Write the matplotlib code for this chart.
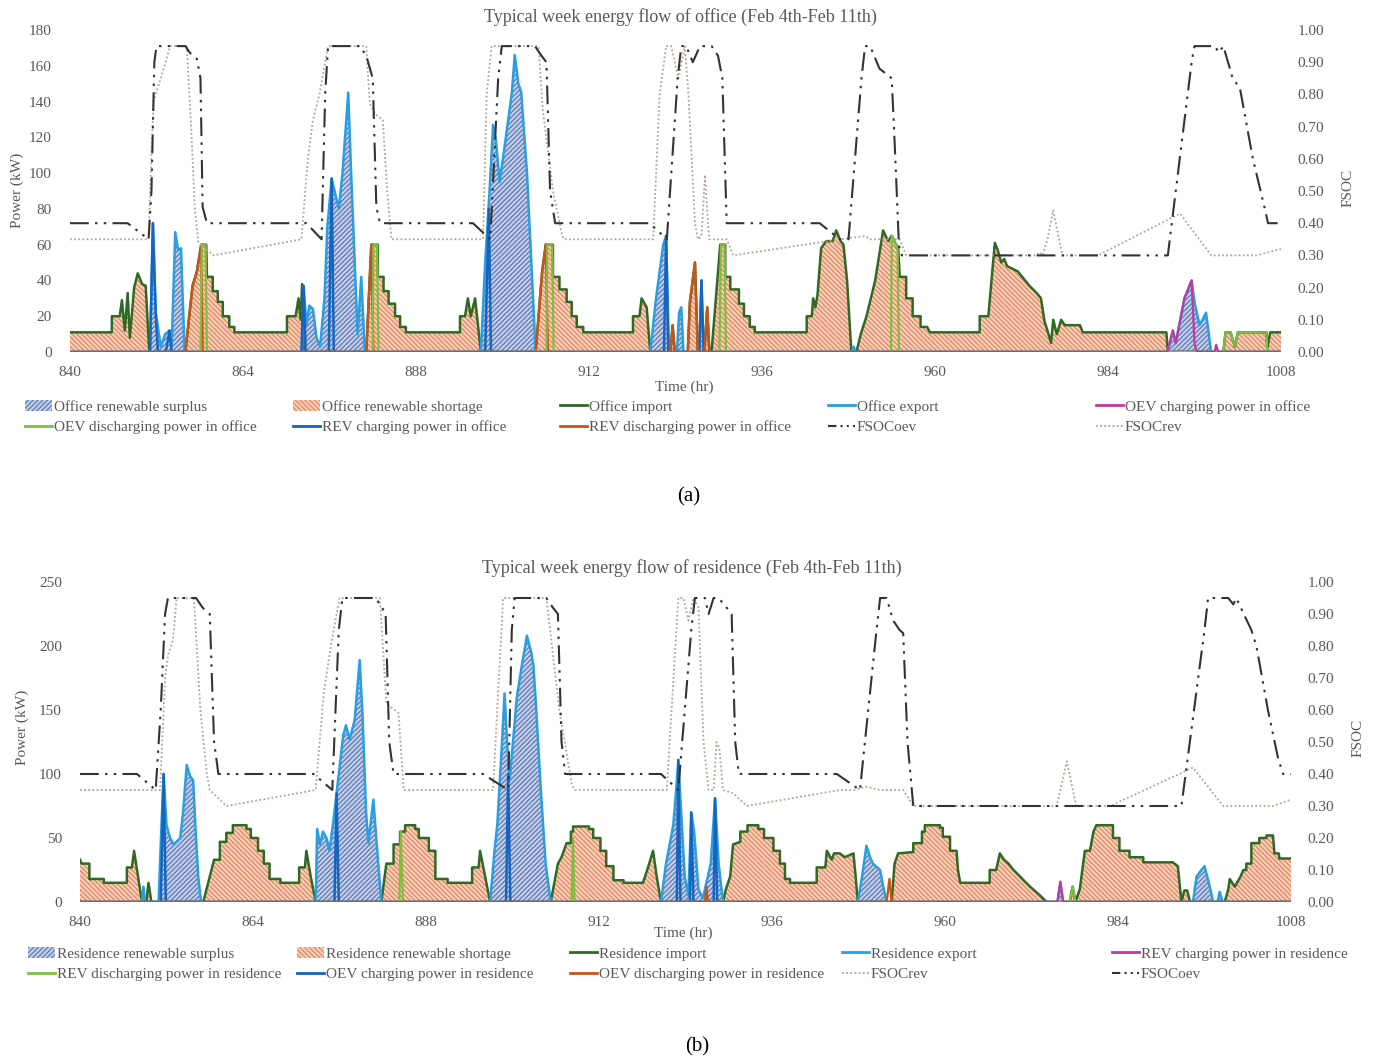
import matplotlib
matplotlib.use("Agg")
import matplotlib.pyplot as plt
from matplotlib.patches import Patch
from matplotlib.lines import Line2D

plt.rcParams["font.family"] = ["Liberation Serif", "DejaVu Serif"]
plt.rcParams["hatch.linewidth"] = 0.8

GREY = "#595959"

# ---------------- office (hour, kW) ----------------
off_short = [
    (840, 11), (845.8, 11), (845.8, 20), (846.9, 20), (847.2, 29), (847.6, 12), (848.0, 33), (848.3, 8),
    (848.9, 36), (849.4, 44), (850.0, 38), (850.5, 37), (851.0, 0),
    (856.0, 0), (857.0, 37), (857.6, 45), (858.2, 60), (858.9, 60), (859.0, 42), (859.8, 42), (859.8, 34),
    (860.5, 34), (860.5, 28), (861.2, 28), (861.2, 20), (862.1, 20), (862.1, 14), (862.8, 14), (862.8, 11),
    (870.1, 11), (870.1, 20), (871.3, 20), (871.7, 30), (872.0, 18), (872.2, 38), (872.5, 0),
    (881.1, 0), (881.8, 60), (882.7, 60), (882.7, 42), (883.5, 42), (883.5, 34), (884.2, 34), (884.2, 27),
    (885.1, 27), (885.1, 20), (885.8, 20), (885.8, 14), (886.6, 14), (886.6, 11),
    (894.1, 11), (894.1, 20), (894.8, 20), (895.2, 30), (895.6, 20), (896.2, 30), (897.0, 0),
    (904.6, 0), (905.5, 45), (906.0, 60), (907.0, 60), (907.0, 42), (907.9, 42), (907.9, 35), (908.9, 35),
    (908.9, 28), (909.6, 28), (909.6, 20), (910.3, 20), (910.3, 14), (911.2, 14), (911.2, 11),
    (918.1, 11), (918.1, 20), (919.0, 20), (919.3, 30), (920.0, 25), (920.5, 0),
    (923.3, 0), (923.6, 15), (923.9, 0), (925.7, 0), (926.0, 28), (926.7, 50), (927.1, 0), (928.0, 0),
    (928.4, 25), (928.7, 0), (929.0, 0), (929.8, 40), (930.2, 60), (930.9, 60), (930.9, 42), (931.6, 42),
    (931.6, 35), (932.8, 35), (932.8, 27), (933.5, 27), (933.5, 20), (934.3, 20), (934.3, 14), (935.0, 14),
    (935.0, 11),
    (942.2, 11), (942.2, 20), (942.9, 20), (943.1, 30), (943.4, 25), (943.7, 32), (944.2, 58), (944.9, 62),
    (945.8, 62), (946.3, 68), (946.9, 62), (947.3, 60), (947.8, 40), (948.4, 0),
    (949.1, 0), (949.7, 10), (950.5, 20), (951.7, 40), (952.8, 68), (953.5, 62), (954.0, 65), (954.6, 60),
    (954.9, 58), (955.1, 42), (956.0, 42), (956.0, 30), (956.9, 30), (956.9, 20), (958.0, 20), (958.0, 14),
    (958.9, 14), (959.3, 11),
    (966.2, 11), (966.2, 20), (967.4, 20), (968.3, 61), (968.7, 57), (969.2, 50), (969.6, 52), (970.0, 48),
    (971.5, 45), (972.5, 40), (973.1, 37), (973.6, 35), (974.1, 33), (974.7, 30), (975.2, 17), (975.6, 12),
    (976.1, 5), (976.4, 18), (976.9, 10), (977.5, 18), (978.0, 15), (980.1, 15), (980.5, 11),
    (992.1, 11), (992.3, 0), (1000.0, 0), (1000.3, 11), (1001.0, 11), (1001.6, 3), (1002.0, 11),
    (1006.0, 11), (1006.1, 2), (1006.5, 11), (1008, 11),
]
off_surp = [
    (840, 0), (851.1, 0), (851.5, 72), (851.9, 22), (852.6, 3), (853.2, 10), (853.8, 12), (854.1, 2),
    (854.6, 67), (855.0, 57), (855.4, 58), (855.9, 0),
    (872.2, 0), (872.4, 37), (872.8, 15), (873.2, 26), (873.7, 24), (874.2, 8), (874.7, 3), (875.3, 30),
    (875.7, 70), (876.3, 97), (876.7, 90), (877.3, 80), (877.8, 100), (878.6, 145), (879.0, 100),
    (879.6, 40), (879.9, 10), (880.4, 42), (880.9, 0),
    (897.0, 0), (897.6, 50), (898.2, 90), (898.7, 127), (899.1, 118), (899.6, 95), (900.3, 115),
    (901.3, 145), (901.7, 166), (902.2, 150), (902.6, 145), (903.4, 100), (904.0, 50), (904.6, 0),
    (920.5, 0), (921.3, 30), (921.8, 45), (922.3, 60), (922.7, 65), (923.1, 0), (924.2, 0), (924.5, 22),
    (924.8, 25), (925.1, 0), (927.3, 0), (927.6, 40), (927.9, 0),
    (948.4, 0), (948.7, 3), (949.0, 0),
    (992.3, 0), (993.0, 12), (993.4, 5), (994.6, 30), (995.1, 35), (995.6, 40), (996.0, 28), (996.7, 15),
    (997.6, 22), (998.3, 0), (1008, 0),
]
off_rev_ch = [
    (840, 0), (851.1, 0), (851.5, 72), (851.9, 20), (852.2, 0), (853.3, 0), (853.8, 12), (854.1, 0),
    (872.1, 0), (872.4, 37), (872.7, 0), (875.9, 0), (876.3, 97), (876.6, 0), (897.6, 0), (898.1, 80),
    (898.4, 0), (922.4, 0), (922.7, 65), (923.0, 0), (927.3, 0), (927.6, 40), (927.9, 0), (1008, 0),
]
off_rev_dis = [
    (840, 0), (856.0, 0), (857.0, 37), (857.6, 45), (858.2, 60), (858.4, 0), (881.1, 0), (881.8, 60),
    (882.1, 0), (904.6, 0), (905.5, 45), (906.0, 60), (906.3, 0), (923.3, 0), (923.6, 15), (923.9, 0),
    (925.7, 0), (926.0, 28), (926.7, 50), (927.1, 0), (928.0, 0), (928.4, 25), (928.7, 0), (1008, 0),
]
off_oev_ch = [
    (840, 0), (992.2, 0), (993.0, 12), (993.4, 5), (994.6, 30), (995.1, 35), (995.6, 40), (996.0, 5),
    (996.3, 0), (998.8, 0), (999.0, 4), (999.3, 0), (1008, 0),
]
off_oev_dis = [
    (840, 0), (858.1, 0), (858.3, 60), (858.8, 60), (859.0, 0), (882.0, 0), (882.1, 60), (882.6, 60),
    (882.8, 0), (906.1, 0), (906.2, 60), (906.9, 60), (907.1, 0), (930.1, 0), (930.3, 60), (930.8, 60),
    (931.0, 0), (953.9, 0), (954.0, 65), (954.8, 58), (955.0, 0), (1000.0, 0), (1000.3, 11), (1001.0, 11),
    (1001.6, 3), (1002.0, 11), (1006.0, 11), (1006.1, 0), (1008, 0),
]
off_fsoc_oev = [
    (840, 0.40), (848.0, 0.40), (850.9, 0.35), (851.3, 0.50), (851.7, 0.90), (852.0, 0.95), (856.0, 0.95),
    (856.6, 0.93), (857.6, 0.91), (858.1, 0.85), (858.4, 0.45), (859.0, 0.40),
    (872.8, 0.40), (874.9, 0.35), (875.4, 0.80), (875.8, 0.95), (880.2, 0.95), (881.1, 0.92), (882.0, 0.85),
    (882.5, 0.45), (883.0, 0.40),
    (895.9, 0.40), (898.3, 0.35), (899.4, 0.85), (899.9, 0.95), (904.5, 0.95), (905.4, 0.92), (906.1, 0.90),
    (906.6, 0.50), (907.3, 0.40),
    (920.4, 0.40), (922.8, 0.35), (924.3, 0.85), (924.8, 0.95), (925.5, 0.95), (926.4, 0.90), (927.4, 0.95),
    (929.0, 0.95), (929.9, 0.92), (930.5, 0.85), (931.1, 0.40),
    (944.0, 0.40), (946.8, 0.35), (948.0, 0.35), (949.8, 0.85), (950.3, 0.95), (951.0, 0.95), (952.3, 0.88),
    (954.0, 0.85), (954.5, 0.60), (955.0, 0.33), (955.4, 0.30),
    (992.3, 0.30), (995.6, 0.90), (996.0, 0.95), (998.8, 0.95), (999.4, 0.93), (1000.0, 0.95), (1001.3, 0.85),
    (1002.3, 0.82), (1004.1, 0.60), (1005.7, 0.45), (1006.2, 0.40), (1007.6, 0.40),
]
off_fsoc_rev = [
    (840, 0.35), (850.9, 0.35), (851.3, 0.62), (851.6, 0.78), (852.6, 0.85), (853.9, 0.95), (856.2, 0.95),
    (856.8, 0.70), (857.3, 0.45), (857.8, 0.34), (859.4, 0.31), (859.9, 0.30),
    (872.1, 0.35), (873.0, 0.60), (873.7, 0.72), (874.6, 0.80), (875.8, 0.95), (881.1, 0.95), (881.6, 0.77),
    (882.3, 0.74), (883.4, 0.72), (884.0, 0.50), (884.6, 0.35),
    (897.3, 0.35), (897.8, 0.80), (898.5, 0.95), (905.0, 0.95), (905.6, 0.75), (907.0, 0.50), (908.2, 0.37),
    (908.5, 0.35),
    (920.9, 0.35), (921.8, 0.80), (922.7, 0.95), (923.4, 0.95), (924.4, 0.85), (925.3, 0.95), (925.8, 0.80),
    (926.7, 0.40), (927.1, 0.35), (927.6, 0.36), (928.1, 0.55), (928.5, 0.40), (928.7, 0.35), (931.1, 0.35),
    (932.0, 0.30), (946.8, 0.35), (950.3, 0.36), (951.0, 0.35), (955.1, 0.35), (956.0, 0.30),
    (974.1, 0.30), (974.5, 0.31), (974.9, 0.30), (975.6, 0.35), (976.4, 0.44), (977.2, 0.35), (977.7, 0.30),
    (982.6, 0.30), (994.0, 0.43), (998.3, 0.30), (1004.6, 0.30), (1008, 0.32),
]

# ---------------- residence (hour, kW) ----------------
res_short = [
    (840, 33), (840.2, 30), (841.3, 30), (841.3, 18), (843.3, 18), (843.3, 15), (846.5, 15), (846.5, 27),
    (847.2, 27), (847.5, 40), (848.0, 22), (848.6, 0), (849.2, 0), (849.5, 15), (849.9, 0),
    (857.1, 0), (858.0, 20), (858.6, 33), (859.4, 33), (859.4, 47), (860.3, 47), (860.3, 54), (861.2, 54),
    (861.2, 60), (863.1, 60), (863.1, 57), (863.7, 57), (863.7, 50), (864.7, 50), (864.7, 40), (865.5, 40),
    (865.5, 30), (866.3, 30), (866.3, 18), (867.8, 18), (867.8, 15), (870.4, 15), (870.4, 27), (871.2, 27),
    (871.4, 40), (872.0, 20), (872.7, 0),
    (881.8, 0), (882.5, 30), (883.5, 30), (883.5, 45), (884.4, 45), (884.4, 55), (885.1, 55), (885.1, 60),
    (886.5, 60), (886.5, 57), (887.0, 57), (887.0, 50), (888.4, 50), (888.4, 40), (889.3, 40), (889.3, 18),
    (891.0, 18), (891.0, 15), (894.4, 15), (894.4, 27), (895.3, 27), (895.5, 40), (896.2, 20), (896.9, 0),
    (905.3, 0), (905.8, 15), (906.3, 30), (906.8, 35), (907.5, 46), (908.1, 46), (908.1, 55), (908.4, 55),
    (908.4, 59), (910.6, 59), (910.6, 57), (911.2, 57), (911.2, 50), (912.2, 50), (912.2, 40), (913.0, 40),
    (913.0, 28), (914.0, 28), (914.0, 17), (915.4, 17), (915.4, 15), (918.1, 15), (918.8, 27), (919.5, 40),
    (920.0, 20), (920.6, 0),
    (929.2, 0), (929.6, 10), (930.2, 20), (930.6, 45), (931.6, 47), (931.6, 55), (932.6, 55), (932.6, 60),
    (934.1, 60), (934.1, 57), (934.9, 57), (934.9, 50), (936.2, 50), (936.2, 40), (937.1, 40), (937.1, 30),
    (937.8, 30), (937.8, 18), (938.5, 18), (938.5, 15), (942.2, 15), (942.2, 27), (943.4, 27), (943.6, 40),
    (944.3, 33), (944.6, 38), (945.4, 38), (946.1, 35), (947.3, 38), (947.6, 20), (947.9, 0),
    (952.6, 0), (953.0, 30), (953.5, 38), (955.6, 39), (955.6, 46), (956.8, 46), (956.8, 55), (957.2, 55),
    (957.2, 60), (959.3, 60), (959.3, 58), (959.7, 58), (959.7, 51), (960.7, 51), (960.7, 40), (961.6, 40),
    (961.8, 25), (962.1, 15), (966.2, 15), (966.2, 25), (967.1, 25), (967.6, 38), (968.2, 33), (968.8, 30),
    (969.5, 25), (970.4, 20), (970.9, 17), (971.8, 12), (973.2, 5), (974.1, 0),
    (977.3, 0), (977.7, 12), (978.1, 0), (978.7, 10), (979.4, 40), (980.1, 40), (980.6, 55), (981.0, 60),
    (983.3, 60), (983.3, 50), (984.2, 50), (984.2, 40), (985.6, 40), (985.6, 35), (987.5, 35), (987.5, 31),
    (991.6, 31), (992.3, 28), (992.8, 0), (993.2, 9), (993.6, 9), (994.0, 0),
    (998.8, 0), (999.3, 10), (999.5, 18), (1000.2, 12), (1001.0, 20), (1001.4, 25), (1001.8, 25),
    (1001.8, 30), (1002.5, 30), (1002.5, 46), (1003.6, 46), (1003.6, 50), (1004.6, 50), (1004.6, 52),
    (1005.5, 52), (1005.7, 38), (1006.3, 38), (1006.4, 34), (1008, 34),
]
res_surp = [
    (840, 0), (848.6, 0), (848.8, 12), (849.0, 0), (850.9, 0), (851.3, 60), (851.6, 100), (852.0, 60),
    (852.5, 50), (853.0, 45), (853.9, 50), (854.3, 70), (854.8, 107), (855.3, 98), (855.7, 95), (856.0, 60),
    (856.4, 20), (856.8, 0),
    (872.7, 0), (872.9, 57), (873.3, 45), (873.7, 55), (874.2, 50), (874.6, 40), (875.1, 61), (875.6, 85),
    (876.1, 110), (876.5, 130), (876.9, 138), (877.4, 127), (878.1, 142), (878.8, 189), (879.2, 145),
    (879.7, 69), (880.0, 46), (880.7, 80), (881.1, 50), (881.8, 0),
    (896.9, 0), (897.5, 40), (897.9, 61), (898.5, 120), (898.9, 163), (899.2, 130), (899.6, 95), (900.3, 140),
    (900.6, 160), (901.3, 185), (902.0, 208), (902.6, 195), (902.9, 185), (903.3, 150), (903.9, 90),
    (904.6, 30), (905.3, 0),
    (920.6, 0), (921.3, 30), (921.8, 45), (922.3, 60), (922.7, 87), (923.0, 111), (923.3, 80), (923.7, 40),
    (923.9, 20), (924.4, 5), (924.8, 70), (925.2, 55), (925.8, 10), (926.4, 3), (926.9, 15), (927.5, 30),
    (928.1, 81), (928.6, 30), (929.2, 0),
    (947.9, 0), (948.5, 20), (949.1, 44), (949.6, 35), (950.0, 30), (951.0, 25), (951.5, 10), (951.9, 0),
    (975.6, 0), (976.0, 15), (976.4, 0),
    (994.4, 0), (994.9, 20), (996.0, 28), (996.6, 15), (997.2, 0), (997.8, 0), (998.1, 8), (998.5, 0),
    (1008, 0),
]
res_oev_ch = [
    (840, 0), (851.2, 0), (851.6, 100), (851.9, 0), (875.3, 0), (875.6, 85), (875.9, 0), (899.1, 0),
    (899.4, 100), (899.7, 0), (922.8, 0), (923.0, 111), (923.3, 0), (924.6, 0), (924.8, 70), (925.1, 0),
    (927.9, 0), (928.1, 81), (928.4, 0), (1008, 0),
]
res_oev_dis = [
    (840, 0), (926.7, 0), (926.9, 12), (927.1, 0), (951.9, 0), (952.3, 18), (952.6, 0), (1008, 0),
]
res_rev_ch = [(840, 0), (975.6, 0), (976.0, 16), (976.4, 0), (1008, 0)]
res_rev_dis = [
    (840, 0), (884.3, 0), (884.5, 55), (884.8, 0), (908.2, 0), (908.4, 50), (908.6, 0), (977.3, 0),
    (977.7, 12), (978.1, 0), (1008, 0),
]
res_fsoc_oev = [
    (840, 0.40), (847.9, 0.40), (850.5, 0.35), (851.2, 0.60), (851.8, 0.90), (852.2, 0.95), (856.1, 0.95),
    (857.0, 0.92), (858.0, 0.90), (858.6, 0.50), (859.2, 0.40),
    (872.4, 0.40), (875.0, 0.35), (875.9, 0.85), (876.4, 0.95), (881.0, 0.95), (881.9, 0.92), (882.4, 0.90),
    (882.9, 0.50), (883.5, 0.40),
    (895.9, 0.40), (899.4, 0.35), (899.9, 0.85), (900.3, 0.95), (904.7, 0.95), (905.6, 0.92), (906.3, 0.90),
    (906.8, 0.50), (907.3, 0.40),
    (920.6, 0.40), (923.0, 0.35), (924.8, 0.85), (925.3, 0.95), (926.7, 0.95), (927.2, 0.90), (927.9, 0.95),
    (928.6, 0.95), (929.7, 0.92), (930.4, 0.90), (930.9, 0.50), (931.4, 0.40),
    (945.0, 0.40), (948.2, 0.35), (950.5, 0.85), (951.0, 0.95), (951.9, 0.95), (952.8, 0.88), (953.7, 0.85),
    (954.2, 0.84), (954.8, 0.50), (955.6, 0.30),
    (992.8, 0.30), (996.0, 0.85), (996.5, 0.95), (999.3, 0.95), (1000.0, 0.93), (1000.4, 0.95),
    (1002.5, 0.85), (1003.2, 0.80), (1004.8, 0.60), (1006.2, 0.45), (1006.9, 0.40), (1008, 0.40),
]
res_fsoc_rev = [
    (840, 0.35), (851.1, 0.35), (851.8, 0.70), (852.2, 0.77), (852.9, 0.82), (853.4, 0.95), (855.8, 0.95),
    (856.7, 0.60), (857.6, 0.40), (858.0, 0.35), (860.3, 0.30),
    (872.7, 0.35), (873.8, 0.65), (874.8, 0.80), (876.0, 0.95), (881.6, 0.95), (882.5, 0.62), (884.2, 0.59),
    (884.9, 0.35),
    (897.3, 0.35), (898.7, 0.95), (904.7, 0.95), (906.5, 0.60), (908.2, 0.37), (908.6, 0.35),
    (921.4, 0.35), (923.0, 0.95), (923.7, 0.95), (924.4, 0.88), (925.1, 0.95), (925.8, 0.92), (926.5, 0.50),
    (927.2, 0.35), (927.9, 0.35), (928.3, 0.50), (928.7, 0.48), (929.2, 0.35), (930.6, 0.34), (932.5, 0.30),
    (945.4, 0.35), (947.3, 0.35), (949.1, 0.36), (951.0, 0.35), (954.2, 0.35), (955.6, 0.30),
    (975.5, 0.30), (976.9, 0.44), (978.2, 0.30), (982.9, 0.30), (994.4, 0.42), (998.6, 0.30), (1005.5, 0.30),
    (1008, 0.32),
]

# colours
C_IMPORT = "#2f6a24"
C_EXPORT = "#2a9fe0"
C_MAGENTA = "#c0399f"
C_LGREEN = "#7fbf3f"
C_BLUE = "#1565c0"
C_BROWN = "#c4561a"
C_OEV = "#333333"
C_REV = "#b8a294"

SURP = dict(facecolor="#c3cde6", edgecolor="#5573b3", hatch="///////", linewidth=0)
SHORT = dict(facecolor="#f7cfb8", edgecolor="#e0805a", hatch="\\\\\\\\\\\\\\", linewidth=0)
OEV_LS = (0, (9, 3, 1.2, 3, 1.2, 3))
REV_LS = (0, (1, 1.3))


def xy(pairs):
    return [p[0] for p in pairs], [p[1] for p in pairs]


def draw_panel(ax, short, surp, lines, soc_oev, soc_rev, ymax, ystep):
    t, v = xy(short)
    ax.fill_between(t, v, 0, zorder=1, **SHORT)
    t, v = xy(surp)
    ax.fill_between(t, v, 0, zorder=1, **SURP)
    for pairs, color, lw in lines:
        t, v = xy(pairs)
        ax.plot(t, v, color=color, lw=lw, zorder=3)
    ax.set_xlim(840, 1008)
    ax.set_xticks(range(840, 1009, 24))
    ax.set_ylim(0, ymax)
    ax.set_yticks(range(0, ymax + 1, ystep))
    ax.tick_params(length=0, labelsize=11, colors=GREY)
    ax.tick_params(axis="y", pad=13)
    ax.tick_params(axis="x", pad=10)

    ax2 = ax.twinx()
    t, v = xy(soc_rev)
    ax2.plot(t, v, color=C_REV, lw=1.3, ls=REV_LS)
    t, v = xy(soc_oev)
    ax2.plot(t, v, color=C_OEV, lw=1.5, ls=OEV_LS)
    ax2.set_ylim(0, 1)
    ax2.set_yticks([i / 10 for i in range(11)])
    ax2.set_yticklabels(["%.2f" % (i / 10) for i in range(11)])
    ax2.tick_params(length=0, labelsize=11, colors=GREY, pad=12)
    for a in (ax, ax2):
        for s in a.spines.values():
            s.set_visible(False)
    return ax2


def add_legend(fig, entries, xs, ytop):
    # five fixed columns, two rows each
    for i, x in enumerate(xs):
        col = [entries[i], entries[i + 5]]
        fig.legend([c[0] for c in col], [c[1] for c in col], loc="upper left",
                   bbox_to_anchor=(x / W, 1 - ytop / H), frameon=False, borderpad=0,
                   borderaxespad=0, handlelength=1.75, handletextpad=0.12, labelspacing=0.45,
                   prop={"size": 11}, labelcolor=GREY)


W, H = 1373, 1062
fig = plt.figure(figsize=(W / 100, H / 100), dpi=100)

# ---- office ----
ax = fig.add_axes([70 / W, 1 - 352 / H, (1281 - 70) / W, (352 - 30) / H])
draw_panel(
    ax, off_short, off_surp,
    [
        (off_short, C_IMPORT, 1.8),
        (off_surp, C_EXPORT, 1.8),
        (off_rev_ch, C_BLUE, 1.8),
        (off_rev_dis, C_BROWN, 1.7),
        (off_oev_dis, C_LGREEN, 1.6),
        (off_oev_ch, C_MAGENTA, 1.6),
    ],
    off_fsoc_oev, off_fsoc_rev, 180, 20,
)
fig.text(680 / W, 1 - 17 / H, "Typical week energy flow of office (Feb 4th-Feb 11th)",
         ha="center", va="center", fontsize=13, color=GREY)
fig.text(684 / W, 1 - 387 / H, "Time (hr)", ha="center", va="center", fontsize=11, color=GREY)
fig.text(17 / W, 1 - 190 / H, "Power (kW)", ha="center", va="center", rotation=90, fontsize=11, color=GREY)
fig.text(1348 / W, 1 - 188 / H, "FSOC", ha="center", va="center", rotation=90, fontsize=11, color=GREY)

off_entries = [
    (Patch(**SURP), "Office renewable surplus"),
    (Patch(**SHORT), "Office renewable shortage"),
    (Line2D([], [], color=C_IMPORT, lw=2), "Office import"),
    (Line2D([], [], color=C_EXPORT, lw=2), "Office export"),
    (Line2D([], [], color=C_MAGENTA, lw=2), "OEV charging power in office"),
    (Line2D([], [], color=C_LGREEN, lw=2), "OEV discharging power in office"),
    (Line2D([], [], color=C_BLUE, lw=2), "REV charging power in office"),
    (Line2D([], [], color=C_BROWN, lw=2), "REV discharging power in office"),
    (Line2D([], [], color=C_OEV, lw=1.5, ls=(0, (4, 2, 1, 2, 1, 2))), "FSOCoev"),
    (Line2D([], [], color=C_REV, lw=1.3, ls=REV_LS), "FSOCrev"),
]
add_legend(fig, off_entries, [25, 293, 560, 828, 1096], 400)
fig.text(689 / W, 1 - 497 / H, "(a)", ha="center", va="center", fontsize=15, color="black")

# ---- residence ----
ax = fig.add_axes([80 / W, 1 - 902 / H, (1291 - 80) / W, (902 - 582) / H])
draw_panel(
    ax, res_short, res_surp,
    [
        (res_short, C_IMPORT, 1.8),
        (res_surp, C_EXPORT, 1.8),
        (res_oev_ch, C_BLUE, 1.8),
        (res_oev_dis, C_BROWN, 1.7),
        (res_rev_dis, C_LGREEN, 1.6),
        (res_rev_ch, C_MAGENTA, 1.6),
    ],
    res_fsoc_oev, res_fsoc_rev, 250, 50,
)
fig.text(692 / W, 1 - 568 / H, "Typical week energy flow of residence (Feb 4th-Feb 11th)",
         ha="center", va="center", fontsize=13, color=GREY)
fig.text(683 / W, 1 - 933 / H, "Time (hr)", ha="center", va="center", fontsize=11, color=GREY)
fig.text(22 / W, 1 - 727 / H, "Power (kW)", ha="center", va="center", rotation=90, fontsize=11, color=GREY)
fig.text(1358 / W, 1 - 738 / H, "FSOC", ha="center", va="center", rotation=90, fontsize=11, color=GREY)

res_entries = [
    (Patch(**SURP), "Residence renewable surplus"),
    (Patch(**SHORT), "Residence renewable shortage"),
    (Line2D([], [], color=C_IMPORT, lw=2), "Residence import"),
    (Line2D([], [], color=C_EXPORT, lw=2), "Residence export"),
    (Line2D([], [], color=C_MAGENTA, lw=2), "REV charging power in residence"),
    (Line2D([], [], color=C_LGREEN, lw=2), "REV discharging power in residence"),
    (Line2D([], [], color=C_BLUE, lw=2), "OEV charging power in residence"),
    (Line2D([], [], color=C_BROWN, lw=2), "OEV discharging power in residence"),
    (Line2D([], [], color=C_REV, lw=1.3, ls=REV_LS), "FSOCrev"),
    (Line2D([], [], color=C_OEV, lw=1.5, ls=(0, (4, 2, 1, 2, 1, 2))), "FSOCoev"),
]
add_legend(fig, res_entries, [28, 297, 570, 842, 1112], 947)
fig.text(697 / W, 1 - 1047 / H, "(b)", ha="center", va="center", fontsize=15, color="black")

fig.savefig("out.png", dpi=100)
